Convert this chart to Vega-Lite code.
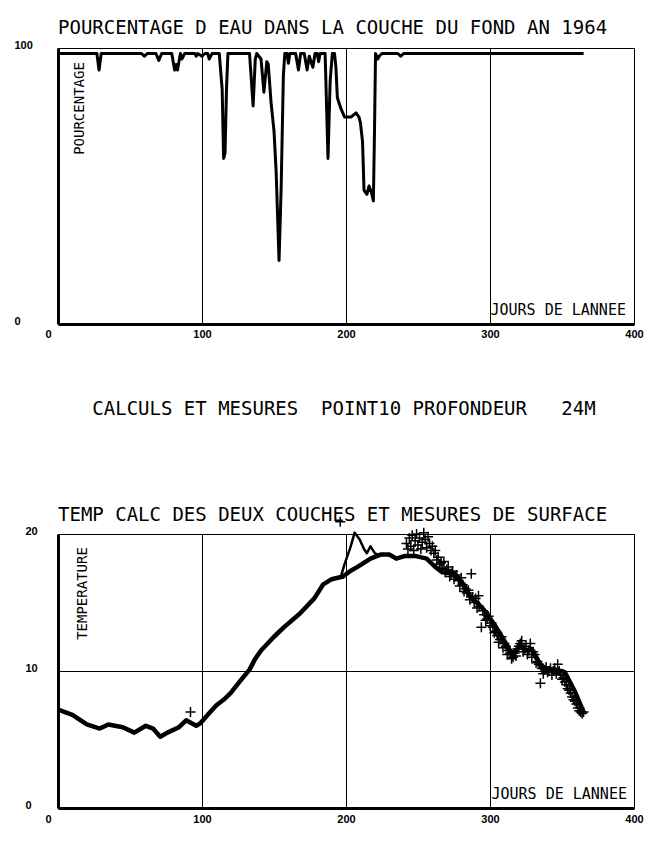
{
  "$schema": "https://vega.github.io/schema/vega-lite/v6.json",
  "background": "white",
  "padding": {"left": 13, "top": 18, "right": 10, "bottom": 10},
  "spacing": 210,
  "bounds": "flush",
  "config": {
    "view": {"stroke": "black", "strokeWidth": 1},
    "axis": {
      "domainColor": "black", "gridColor": "black", "gridWidth": 1, "gridOpacity": 1,
      "ticks": false, "labelFont": "Liberation Sans", "labelFontSize": 11, "labelFontWeight": "bold",
      "labelColor": "black", "titleFont": "DejaVu Sans Mono", "titleFontWeight": "normal",
      "titleColor": "black", "titleFontSize": 14, "labelOverlap": false
    },
    "axisX": {"domainWidth": 3, "labelFlush": false, "labelBaseline": "top", "titleAlign": "left", "titleBaseline": "alphabetic", "titleFontSize": 15,
      "labelOffset": {"expr": "datum.value === 0 ? -10 : 0"}},
    "axisY": {"domainWidth": 3, "labelAlign": "left", "labelBaseline": "alphabetic", "titleAngle": -90, "titleAlign": "center", "titleBaseline": "alphabetic"},
    "title": {"font": "DejaVu Sans Mono", "fontSize": 19, "fontWeight": "normal", "anchor": "start", "frame": "group", "color": "black", "subtitleFont": "DejaVu Sans Mono", "subtitleFontSize": 19, "subtitleColor": "black"}
  },
  "datasets": {
    "pct": [
      {"day":0,"pct":98},{"day":27,"pct":98},{"day":28.5,"pct":92},{"day":30,"pct":98},{"day":58,"pct":98},{"day":60,"pct":97},{"day":62,"pct":98},
      {"day":68,"pct":98},{"day":70,"pct":95.5},{"day":72,"pct":98},{"day":79,"pct":98},{"day":81,"pct":92},{"day":82,"pct":94},{"day":83,"pct":92},
      {"day":85,"pct":98},{"day":86,"pct":96},{"day":88,"pct":98},{"day":95,"pct":98},{"day":96,"pct":97},{"day":97,"pct":98},{"day":100,"pct":97},
      {"day":102,"pct":98},{"day":104,"pct":98},{"day":105,"pct":96},{"day":107,"pct":98},{"day":112,"pct":98},{"day":114,"pct":85},{"day":115,"pct":60},
      {"day":116,"pct":62},{"day":117,"pct":85},{"day":118,"pct":98},{"day":133,"pct":98},{"day":135.5,"pct":79},{"day":137,"pct":96},{"day":138,"pct":98},
      {"day":141,"pct":96},{"day":143,"pct":84},{"day":145,"pct":95},{"day":146,"pct":94},{"day":148,"pct":80},{"day":150,"pct":70},{"day":151.5,"pct":55},
      {"day":153.5,"pct":23},{"day":155,"pct":50},{"day":156.5,"pct":90},{"day":157.5,"pct":98},{"day":159,"pct":98},{"day":160,"pct":94.5},{"day":161,"pct":98},
      {"day":165,"pct":98},{"day":167,"pct":92},{"day":168.5,"pct":98},{"day":171,"pct":98},{"day":173,"pct":92},{"day":174.5,"pct":97},{"day":177,"pct":93},
      {"day":178.5,"pct":98},{"day":180,"pct":98},{"day":181,"pct":95},{"day":182,"pct":98},{"day":185.5,"pct":98},{"day":187.5,"pct":60},{"day":189,"pct":88},
      {"day":190.5,"pct":98},{"day":192,"pct":98},{"day":193,"pct":93},{"day":194,"pct":82},{"day":196.5,"pct":78},{"day":199,"pct":75},{"day":203.5,"pct":75},
      {"day":207,"pct":76.5},{"day":209,"pct":75},{"day":210,"pct":73},{"day":211.5,"pct":66},{"day":212.5,"pct":48.5},{"day":214.5,"pct":47},{"day":216,"pct":50},
      {"day":218,"pct":47},{"day":219,"pct":44.6},{"day":219.8,"pct":70},{"day":220.5,"pct":98},{"day":222,"pct":96},{"day":223,"pct":97},{"day":225,"pct":98},
      {"day":236,"pct":98},{"day":238,"pct":97},{"day":240,"pct":98},{"day":365,"pct":98}
    ],
    "fond": [
      {"day":0,"t":7.2},{"day":2,"t":7.1},{"day":10,"t":6.8},{"day":20,"t":6.1},{"day":29,"t":5.8},{"day":35,"t":6.1},{"day":45,"t":5.9},{"day":53,"t":5.5},
      {"day":61,"t":6.0},{"day":66,"t":5.8},{"day":71,"t":5.2},{"day":76,"t":5.5},{"day":84,"t":5.9},{"day":89,"t":6.4},{"day":96,"t":6.0},{"day":99,"t":6.2},
      {"day":104,"t":6.8},{"day":110,"t":7.5},{"day":115,"t":7.9},{"day":120,"t":8.4},{"day":126,"t":9.2},{"day":133,"t":10.1},{"day":137,"t":10.9},{"day":141,"t":11.5},
      {"day":150,"t":12.5},{"day":157,"t":13.2},{"day":168,"t":14.2},{"day":178,"t":15.3},{"day":184,"t":16.3},{"day":190,"t":16.7},{"day":198,"t":16.9},
      {"day":203,"t":17.3},{"day":208,"t":17.6},{"day":217,"t":18.2},{"day":224,"t":18.5},{"day":230,"t":18.5},{"day":235,"t":18.2},{"day":241,"t":18.4},
      {"day":248,"t":18.4},{"day":256,"t":18.2},{"day":262,"t":17.6},{"day":267,"t":17.2},{"day":275,"t":17.1},{"day":282,"t":16.3},{"day":287,"t":15.3},
      {"day":292,"t":14.9},{"day":297,"t":14.3},{"day":303,"t":13.4},{"day":310,"t":12.2},{"day":316,"t":11.1},{"day":321,"t":12.0},{"day":324,"t":11.5},
      {"day":329,"t":11.6},{"day":336,"t":10.3},{"day":345,"t":10.0},{"day":350,"t":10.0},{"day":352,"t":9.9},{"day":359,"t":8.5},{"day":365,"t":7.0}
    ],
    "surface": [
      {"day":196.5,"t":16.9},{"day":199,"t":17.8},{"day":203,"t":19.0},{"day":206,"t":20.1},{"day":209.5,"t":19.6},{"day":212.5,"t":18.9},
      {"day":214.5,"t":18.6},{"day":217,"t":19.1},{"day":220,"t":18.6},{"day":222,"t":18.5}
    ],
    "mesures": [
      {"day":92,"t":7.0},{"day":196,"t":20.9},
      {"day":242,"t":19.3},{"day":243,"t":18.9},{"day":244,"t":19.7},{"day":245,"t":19.1},{"day":246,"t":19.9},{"day":247,"t":18.8},{"day":248,"t":19.5},
      {"day":249,"t":20.0},{"day":250,"t":19.2},{"day":251,"t":19.7},{"day":252,"t":18.9},{"day":253,"t":19.4},{"day":254,"t":20.1},{"day":255,"t":19.6},
      {"day":256,"t":19.0},{"day":257,"t":19.8},{"day":258,"t":19.3},{"day":259,"t":18.8},{"day":260,"t":19.1},{"day":261,"t":18.6},{"day":262,"t":18.8},
      {"day":263,"t":18.1},{"day":264,"t":18.3},{"day":265,"t":17.8},{"day":266,"t":17.9},{"day":267,"t":17.5},{"day":268,"t":18.0},{"day":269,"t":17.2},{"day":270,"t":17.4},{"day":271,"t":17.6},{"day":272,"t":16.9},{"day":273,"t":17.1},
      {"day":274,"t":17.3},{"day":275,"t":16.7},{"day":276,"t":16.9},{"day":277,"t":17.0},{"day":278,"t":16.6},{"day":279,"t":16.2},{"day":280,"t":16.8},{"day":281,"t":16.3},{"day":282,"t":15.8},{"day":283,"t":16.0},
      {"day":284,"t":15.7},{"day":285,"t":15.9},{"day":286,"t":15.2},{"day":287,"t":17.1},{"day":288,"t":15.4},{"day":289,"t":15.0},{"day":290,"t":15.3},{"day":291,"t":14.6},{"day":292,"t":15.5},
      {"day":292.5,"t":14.7},{"day":294,"t":13.2},{"day":295,"t":14.4},{"day":296,"t":14.1},{"day":297,"t":13.7},{"day":298,"t":13.8},{"day":299,"t":14.0},{"day":300,"t":13.3},{"day":301,"t":13.5},
      {"day":302,"t":13.2},{"day":303,"t":12.8},{"day":304,"t":12.9},{"day":305,"t":12.6},{"day":306,"t":12.1},{"day":307,"t":12.3},{"day":308,"t":12.5},{"day":309,"t":11.7},{"day":310,"t":12.0},{"day":311,"t":11.8},
      {"day":312,"t":11.2},{"day":313,"t":11.5},{"day":314,"t":11.3},{"day":315,"t":10.9},{"day":316,"t":11.0},{"day":317,"t":11.3},{"day":318,"t":11.1},{"day":319,"t":11.6},{"day":320,"t":11.8},{"day":321,"t":12.0},
      {"day":322,"t":12.2},{"day":323,"t":11.4},{"day":324,"t":11.6},{"day":325,"t":11.8},{"day":326,"t":11.2},{"day":327,"t":11.5},{"day":328,"t":12.0},{"day":329,"t":11.0},{"day":330,"t":11.4},{"day":331,"t":11.2},
      {"day":332,"t":10.6},{"day":333,"t":10.7},{"day":334,"t":10.5},{"day":335,"t":9.1},{"day":336,"t":10.2},{"day":337,"t":9.8},{"day":338,"t":10.1},{"day":339,"t":10.3},{"day":340,"t":9.9},{"day":341,"t":10.0},
      {"day":342,"t":10.2},{"day":343,"t":9.7},{"day":344,"t":10.0},{"day":345,"t":10.2},{"day":346,"t":9.8},{"day":347,"t":10.5},{"day":348,"t":10.0},{"day":349,"t":9.7},{"day":350,"t":9.4},{"day":351,"t":9.5},
      {"day":352,"t":9.2},{"day":353,"t":9.0},{"day":354,"t":8.7},{"day":355,"t":8.6},{"day":356,"t":8.4},{"day":357,"t":8.1},{"day":358,"t":7.9},{"day":359,"t":7.8},{"day":360,"t":7.6},
      {"day":361,"t":7.3},{"day":362,"t":7.1},{"day":363,"t":7.0},{"day":364,"t":6.9},{"day":365,"t":7.0}
    ]
  },
  "vconcat": [
    {
      "width": 576, "height": 276,
      "title": {"text": "POURCENTAGE D EAU DANS LA COUCHE DU FOND AN 1964", "offset": 1},
      "data": {"name": "pct"},
      "mark": {"type": "line", "color": "black", "strokeWidth": 3, "strokeJoin": "round"},
      "encoding": {
        "x": {"field": "day", "type": "quantitative", "scale": {"domain": [0, 400], "nice": false},
          "axis": {"values": [0, 100, 200, 300, 400], "grid": true, "labelPadding": 4, "title": "JOURS DE LANNEE", "titleX": 432, "titleY": -10}},
        "y": {"field": "pct", "type": "quantitative", "scale": {"domain": [0, 100], "nice": false},
          "axis": {"values": [0, 100], "grid": false, "labelPadding": 44, "title": "POURCENTAGE", "titleX": 25, "titleY": 60}}
      }
    },
    {
      "width": 576, "height": 274,
      "title": {"text": "\u200b\u00a0\u00a0\u00a0CALCULS ET MESURES\u00a0\u00a0POINT10 PROFONDEUR\u00a0\u00a0\u00a024M", "subtitle": "TEMP CALC DES DEUX COUCHES ET MESURES DE SURFACE", "subtitlePadding": 87, "offset": -11},
      "layer": [
        {
          "data": {"name": "fond"},
          "mark": {"type": "line", "color": "black", "strokeWidth": 4.5, "strokeJoin": "round"},
          "encoding": {
            "x": {"field": "day", "type": "quantitative", "scale": {"domain": [0, 400], "nice": false},
              "axis": {"values": [0, 100, 200, 300, 400], "grid": true, "labelPadding": 5, "title": "JOURS DE LANNEE", "titleX": 433, "titleY": -10}},
            "y": {"field": "t", "type": "quantitative", "scale": {"domain": [0, 20], "nice": false},
              "axis": {"values": [0, 10, 20], "grid": true, "labelPadding": 33, "title": "TEMPERATURE", "titleX": 28, "titleY": 59}}
          }
        },
        {
          "data": {"name": "surface"},
          "mark": {"type": "line", "color": "black", "strokeWidth": 2.5, "strokeJoin": "round"},
          "encoding": {
            "x": {"field": "day", "type": "quantitative"},
            "y": {"field": "t", "type": "quantitative"}
          }
        },
        {
          "data": {"name": "mesures"},
          "mark": {"type": "point", "shape": "M-1,0H1M0,-1V1", "filled": false, "color": "black", "strokeWidth": 1.5, "size": 100, "opacity": 1},
          "encoding": {
            "x": {"field": "day", "type": "quantitative"},
            "y": {"field": "t", "type": "quantitative"}
          }
        }
      ]
    }
  ]
}
